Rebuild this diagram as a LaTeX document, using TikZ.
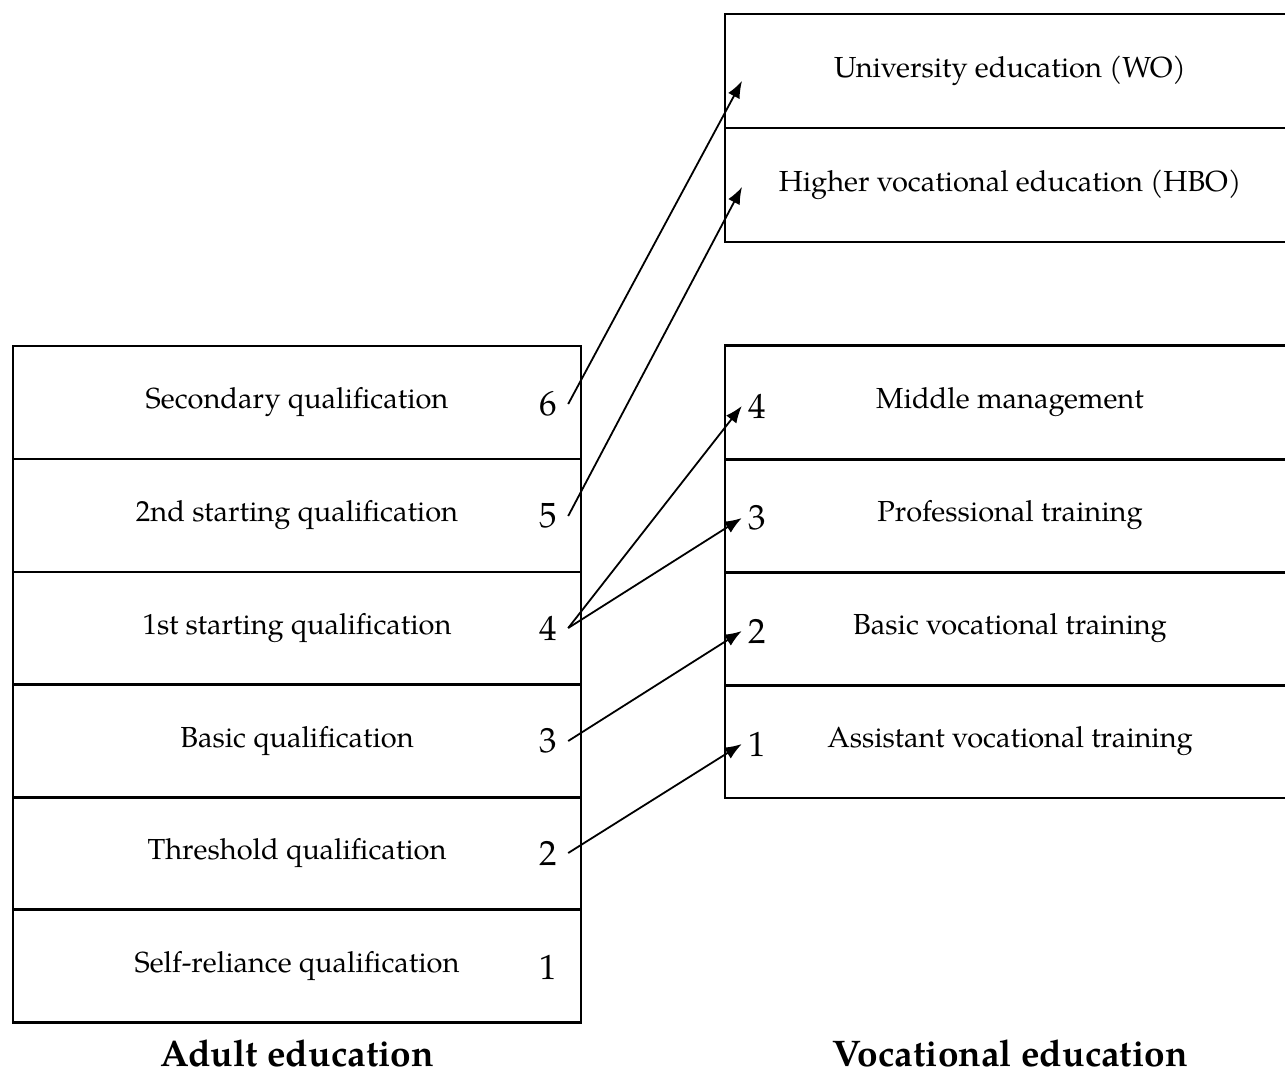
\documentclass[tikz,border=0pt]{standalone}
\usepackage{fontspec}
\setmainfont{TeX Gyre Pagella}
\usetikzlibrary{arrows.meta}
\begin{document}
\begin{tikzpicture}[x=1pt,y=-1pt,
  txt/.style={font=\fontsize{29}{33}\selectfont},
  lrow/.style={txt, draw=black, line width=2.4pt, minimum width=568pt, minimum height=112.7pt, inner sep=0pt, outer sep=0pt},
  rrow/.style={txt, minimum width=570pt, minimum height=113.7pt, inner sep=0pt, outer sep=0pt},
  frame/.style={draw=black, line width=2.4pt},
  num/.style={font=\fontsize{35}{38}\selectfont, inner sep=0pt, minimum width=40pt},
  rnum/.style={font=\fontsize{35}{38}\selectfont, inner sep=0pt, minimum width=30pt},
  title/.style={font=\bfseries\fontsize{37}{42}\selectfont, anchor=base, inner sep=0pt},
  link/.style={line width=1.8pt, -{Latex[length=17pt,width=13pt]}}
]
\useasboundingbox (0,0) rectangle (1285,1074);
\coordinate (edge) at (1285,0);

% adult education ladder
\node[lrow] (L6) at (297,402.5) {Secondary qualification};
\node[lrow] (L5) at (297,515.5) {2nd starting qualification};
\node[lrow] (L4) at (297,628.5) {1st starting qualification};
\node[lrow] (L3) at (297,741)   {Basic qualification};
\node[lrow] (L2) at (297,853.5) {Threshold qualification};
\node[lrow] (L1) at (297,966)   {Self-reliance qualification};

\node[num] (n6) at (548,404) {6};
\node[num] (n5) at (548,516) {5};
\node[num] (n4) at (548,628) {4};
\node[num] (n3) at (548,741) {3};
\node[num] (n2) at (548,853) {2};
\node[num] (n1) at (548,967) {1};

% higher education (open towards the right)
\node[rrow] (WO)  at (1010,71)  {University education (WO)};
\node[rrow] (HBO) at (1010,185) {Higher vocational education (HBO)};
\draw[frame] (WO.north west -| edge) -- (WO.north west) -- (HBO.south west) -- (HBO.south west -| edge);
\draw[frame] (WO.south west) -- (WO.south west -| edge);

% vocational education ladder
\node[rrow] (V4) at (1010,402.5) {Middle management};
\node[rrow] (V3) at (1010,515.5) {Professional training};
\node[rrow] (V2) at (1010,628.5) {Basic vocational training};
\node[rrow] (V1) at (1010,741)   {Assistant vocational training};
\draw[frame] (V4.north west -| edge) -- (V4.north west) -- (V1.south west) -- (V1.south west -| edge);
\foreach \r in {V4,V3,V2} \draw[frame] (\r.south west) -- (\r.south west -| edge);

\node[rnum] (m4) at (757,406) {4};
\node[rnum] (m3) at (757,518) {3};
\node[rnum] (m2) at (757,631) {2};
\node[rnum] (m1) at (757,744) {1};

\coordinate (tWO)  at (742,81);
\coordinate (tHBO) at (742,187);

% transitions
\draw[link] (n6.east) -- (tWO);
\draw[link] (n5.east) -- (tHBO);
\draw[link] (n4.east) -- (m4.west);
\draw[link] (n4.east) -- (m3.west);
\draw[link] (n3.east) -- (m2.west);
\draw[link] (n2.east) -- (m1.west);

% captions
\node[title] (capA) at (297,1066)  {Adult education};
\node[title] (capV) at (1010,1066) {Vocational education};
\end{tikzpicture}
\end{document}
